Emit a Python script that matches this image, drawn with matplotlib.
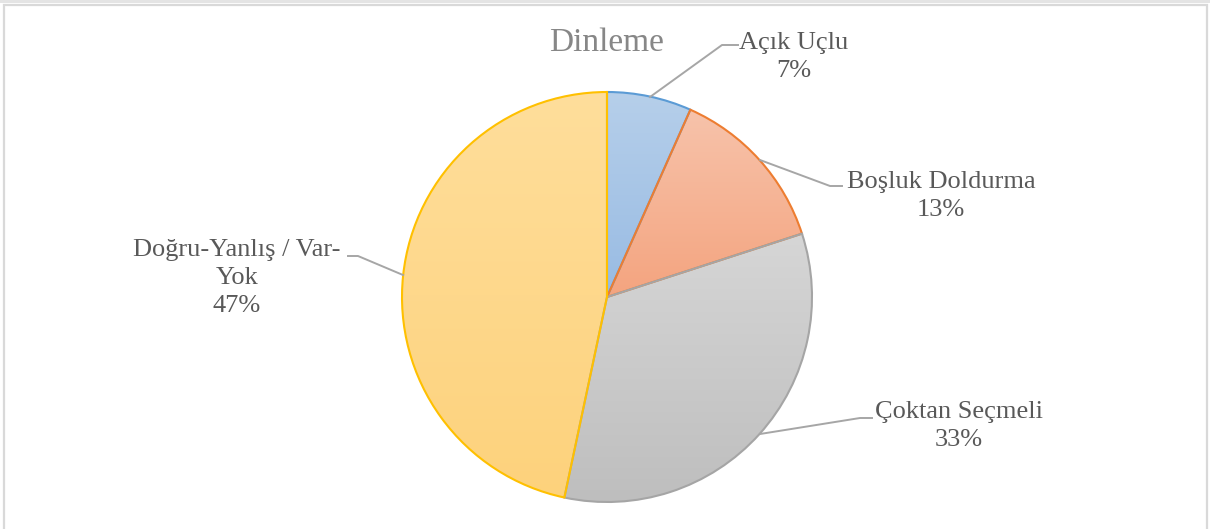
import numpy as np
import matplotlib.pyplot as plt
from matplotlib.colors import LinearSegmentedColormap
from matplotlib.patches import Rectangle

# data: question types in the "Dinleme" section (counts -> shares)
labels = ['Açık Uçlu', 'Boşluk Doldurma', 'Çoktan Seçmeli', 'Doğru-Yanlış / Var-\nYok']
counts = [1, 2, 5, 7]
edge_colors = ['#5B9BD5', '#ED7D31', '#A5A5A5', '#FFC000']
top_colors = ['#B6CFEA', '#F7C3AB', '#D6D6D6', '#FFDE9B']
bottom_colors = ['#98BBE3', '#F4A47F', '#BEBEBE', '#FDD27C']

# label placement (pixel coords, y from top) and leader line bends
label_pos = [(794, 57), (941, 196), (959, 426), (237, 278)]
line_pts = [
    [(650, 97), (722, 45), (738, 45)],
    [(760, 160), (830, 186), (842, 186)],
    [(760, 434), (860, 418), (872, 418)],
    [(403, 275), (358, 256), (348, 256)],
]

W, H = 1210, 529
plt.rcParams['font.family'] = ['Liberation Serif', 'DejaVu Serif']
fig = plt.figure(figsize=(12.1, 5.29), dpi=100)
ax = fig.add_axes([0, 0, 1, 1])

# chart frame
ax.add_patch(Rectangle((0, H - 3), W, 3, color='#E4E4E4', lw=0))
ax.add_patch(Rectangle((3.5, -10), W - 7, H - 3 - 1.5 + 10, fill=False, ec='#D9D9D9', lw=1.6))

cx, cy, r = 607, H - 297, 205
wedges, _ = ax.pie(counts, startangle=90, counterclock=False, center=(cx, cy),
                   radius=r, frame=True)
ax.set_xlim(0, W)
ax.set_ylim(0, H)
ax.set_aspect('equal')
ax.axis('off')

for w, ec, c1, c2 in zip(wedges, edge_colors, top_colors, bottom_colors):
    w.set_facecolor('none')
    w.set_edgecolor(ec)
    w.set_linewidth(1.5)
    w.set_zorder(3)
    ext = w.get_path().get_extents()
    cmap = LinearSegmentedColormap.from_list('g', [c2, c1])
    grad = np.linspace(0, 1, 256).reshape(-1, 1)
    im = ax.imshow(grad, cmap=cmap, origin='lower', aspect='auto',
                   extent=(ext.x0, ext.x1, ext.y0, ext.y1), zorder=2)
    im.set_clip_path(w)

total = sum(counts)
for lab, n, (lx, ly), pts in zip(labels, counts, label_pos, line_pts):
    ax.text(lx, H - ly, f'{lab}\n{round(100 * n / total)}%', ha='center', va='center',
            fontsize=19, color='#595959', linespacing=1.38, zorder=5)
    xs = [p[0] for p in pts]
    ys = [H - p[1] for p in pts]
    ax.plot(xs, ys, color='#A6A6A6', lw=1.4, zorder=4)

ax.text(606, H - 43, 'Dinleme', ha='center', va='center', fontsize=24, color='#878787')

fig.savefig('out.png', dpi=100)
